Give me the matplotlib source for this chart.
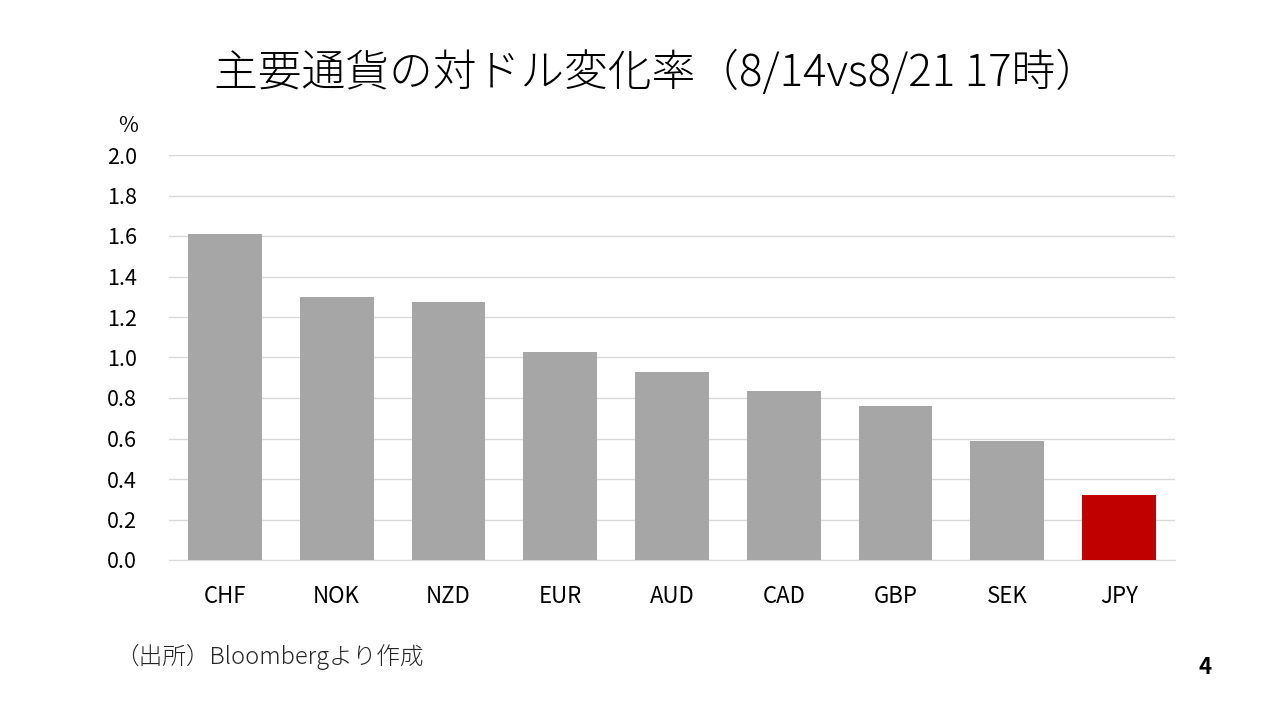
import matplotlib
matplotlib.use("Agg")
import matplotlib.pyplot as plt
from matplotlib.ticker import MultipleLocator, FormatStrFormatter

plt.rcParams['font.family'] = ['Noto Sans CJK JP', 'DejaVu Sans']

categories = ["CHF", "NOK", "NZD", "EUR", "AUD", "CAD", "GBP", "SEK", "JPY"]
values = [1.61, 1.30, 1.274, 1.026, 0.930, 0.833, 0.759, 0.589, 0.319]
colors = ["#A6A6A6"] * 8 + ["#C00000"]
title = "主要通貨の対ドル変化率（8/14vs8/21 17時）"
source = "（出所）Bloombergより作成"

fig = plt.figure(figsize=(12.8, 7.23), dpi=100)
ax = fig.add_axes([169/1280, 1 - 560/723, (1175-169)/1280, (560-155)/723])

x = range(len(categories))
ax.bar(x, values, width=0.66, color=colors, zorder=3)
ax.set_xlim(-0.5, len(categories) - 0.5)
ax.set_ylim(0, 2.0)
ax.yaxis.set_major_locator(MultipleLocator(0.2))
ax.yaxis.set_major_formatter(FormatStrFormatter('%.1f'))
ax.set_xticks(list(x))
ax.set_xticklabels(categories)
ax.grid(axis='y', color='#D9D9D9', linewidth=1.0, zorder=0)
for s in ['top', 'right', 'left']:
    ax.spines[s].set_visible(False)
ax.spines['bottom'].set_color('#D9D9D9')
ax.tick_params(axis='both', length=0, colors='black')
ax.tick_params(axis='x', pad=18, labelsize=16)
ax.tick_params(axis='y', pad=23, labelsize=15.5)

fig.text(128/1280, 1 - 126/723, "%", fontsize=15.5, ha='center', va='center')
fig.text(656/1280, 1 - 73/723, title, fontsize=31.5, ha='center', va='center', fontweight='light')
fig.text(115/1280, 1 - 657/723, source, fontsize=17, ha='left', va='center', color='#262626', fontweight='light')
fig.text(1205/1280, 1 - 668/723, "4", fontsize=16, ha='center', va='center', fontweight='bold')

fig.savefig("out.png", dpi=100)
